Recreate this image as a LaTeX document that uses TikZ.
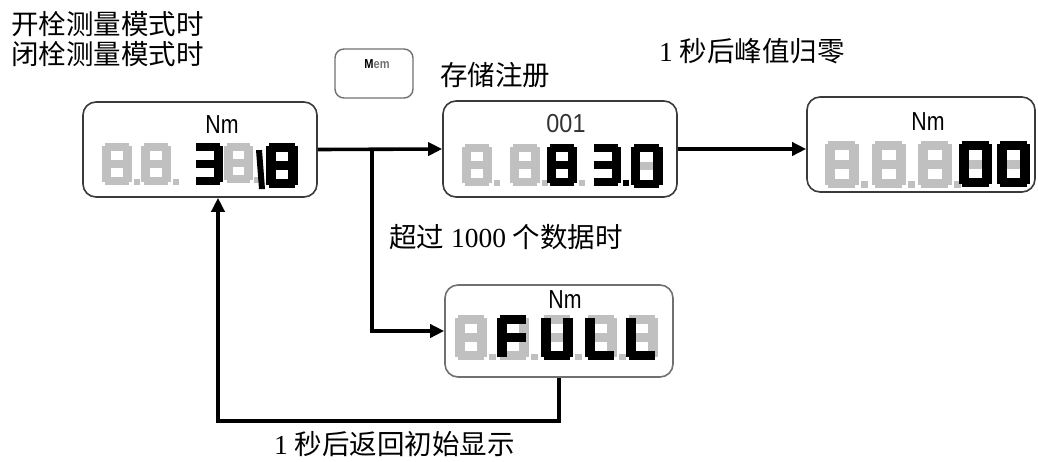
\documentclass[tikz,border=0pt]{standalone}
\usepackage{fontspec}
\setmainfont{Liberation Serif}
\setsansfont{Liberation Sans}
\newfontfamily\cjk{Noto Sans CJK SC}
\usetikzlibrary{arrows.meta}
\definecolor{seggray}{HTML}{C0C0C0}
\definecolor{boxline}{HTML}{3A3A3A}
\definecolor{btnline}{HTML}{707070}
% seven-segment pieces (cell 30 x 42)
\newcommand\dsega[1]{\fill[#1] (3,0) rectangle (27,8);}
\newcommand\dsegb[1]{\fill[#1] (21,3) rectangle (30,21);}
\newcommand\dsegc[1]{\fill[#1] (21,21) rectangle (30,39);}
\newcommand\dsegd[1]{\fill[#1] (3,34) rectangle (27,42);}
\newcommand\dsege[1]{\fill[#1] (0,21) rectangle (9,39);}
\newcommand\dsegf[1]{\fill[#1] (0,3) rectangle (9,21);}
\newcommand\dsegg[1]{\fill[#1] (3,17) rectangle (27,25);}
\newcommand\dsegp[1]{\fill[#1] (32,36) rectangle (38,42);}
\newcommand\segdigit[5]{%
  \begin{scope}[shift={(#1,#2)},scale=#3]
    \foreach \s in {#5}{\csname dseg\s\endcsname{#4}}
  \end{scope}}
\begin{document}
\begin{tikzpicture}[x=1pt,y=-1pt,
  box/.style={draw=boxline,line width=1.6pt,rounded corners=13pt,inner sep=0pt},
  btn/.style={draw=btnline,line width=1.4pt,rounded corners=9pt,inner sep=0pt},
  conn/.style={line width=3.6pt,line join=miter,-{Triangle[length=14pt,width=13pt]}},
  lbl/.style={font=\fontsize{27.5}{32}\selectfont,inner sep=0pt,anchor=west},
  unit/.style={font=\sffamily\fontsize{26}{30}\selectfont,inner sep=0pt,xscale=0.82},
  cnt/.style={font=\sffamily\fontsize{26}{30}\selectfont,inner sep=0pt,xscale=0.9,text=black!80}
]
\useasboundingbox (0,0) rectangle (1038,461);

% texts
\node[lbl] (t1) at (11,24) {\cjk 开栓测量模式时};
\node[lbl] (t2) at (11,54) {\cjk 闭栓测量模式时};
\node[lbl] (t3) at (440,75) {\cjk 存储注册};
\node[lbl] (t4) at (659,51) {1 {\cjk 秒后峰值归零}};
\node[lbl] (t5) at (389,237) {{\cjk 超过} 1000 {\cjk 个数据时}};
\node[lbl] (t6) at (274,444) {1 {\cjk 秒后返回初始显示}};

% Mem button
\node[btn,minimum width=78pt,minimum height=49pt] (mem) at (374,73.5) {};
\node[inner sep=0pt,font=\sffamily\bfseries\fontsize{13}{14}\selectfont,xscale=0.85] (memt) at (377,64) {M{\color{black!55}em}};

% boxes
\node[box,minimum width=234pt,minimum height=95pt] (b1) at (200,149.5) {};
\node[box,minimum width=234pt,minimum height=96pt] (b2) at (560,149) {};
\node[box,minimum width=228pt,minimum height=95pt] (b3) at (921,144.5) {};
\node[box,draw=btnline,minimum width=228pt,minimum height=92pt] (b4) at (559,331) {};

\node[unit] (u1) at (222,125) {Nm};
\node[cnt] (u2) at (566,124) {001};
\node[unit] (u3) at (928,122) {Nm};
\node[unit] (u4) at (565,300) {Nm};

% box 1 display
\segdigit{102}{143}{1}{seggray}{a,b,c,d,e,f,g,p}
\segdigit{141}{143}{1}{seggray}{a,b,c,d,e,f,g,p}
\segdigit{224}{143}{0.95}{seggray}{a,b,c,d,e,f,g,p}
\segdigit{193}{143}{1}{black}{a,b,c,d,g}
\fill (256,150) -- (262,150) -- (265,189) -- (259,189) -- cycle;
\segdigit{266}{143}{1.07}{black}{a,b,c,d,e,f,g}

% box 2 display
\segdigit{462}{144}{1}{seggray}{a,b,c,d,e,f,g,p}
\segdigit{510}{144}{1}{seggray}{a,b,c,d,e,f,g,p}
\segdigit{547}{144}{1}{seggray}{p}
\segdigit{547}{144}{1}{black}{a,b,c,d,e,f,g}
\segdigit{591}{144}{1}{black}{a,b,c,d,g,p}
\segdigit{631}{144}{1.05}{seggray}{g}
\segdigit{631}{144}{1.05}{black}{a,b,c,d,e,f}

% box 3 display
\segdigit{825}{141}{1.12}{seggray}{a,b,c,d,e,f,g,p}
\segdigit{872}{141}{1.12}{seggray}{a,b,c,d,e,f,g,p}
\segdigit{918}{141}{1.12}{seggray}{a,b,c,d,e,f,g,p}
\segdigit{959}{141}{1.1}{seggray}{g}
\segdigit{959}{141}{1.1}{black}{a,b,c,d,e,f}
\segdigit{997}{141}{1.1}{seggray}{g}
\segdigit{997}{141}{1.1}{black}{a,b,c,d,e,f}

% box 4 display
\segdigit{455}{315}{1.07}{seggray}{a,b,c,d,e,f,g,p}
\segdigit{497}{315}{1.07}{seggray}{a,b,c,d,e,f,g,p}
\segdigit{541}{315}{1.07}{seggray}{a,b,c,d,e,f,g,p}
\segdigit{585}{315}{1.07}{seggray}{a,b,c,d,e,f,g,p}
\segdigit{626}{315}{1.07}{seggray}{a,b,c,d,e,f,g}
\segdigit{497}{315}{1.07}{black}{a,e,f,g}
\segdigit{541}{315}{1.07}{black}{b,c,d,e,f}
\segdigit{585}{315}{1.07}{black}{d,e,f}
\segdigit{626}{315}{1.07}{black}{d,e,f}

% connectors
\coordinate (j) at (372,149.5);
\coordinate (r) at (218,421);
\draw[conn] (b1.east) -- (b2.west);
\draw[conn] (j) |- (b4.west);
\draw[conn] (b2.east) -- (b3.west |- b2.east);
\draw[conn] (b4.south) |- (r) -- (r |- b1.south);
\end{tikzpicture}
\end{document}
